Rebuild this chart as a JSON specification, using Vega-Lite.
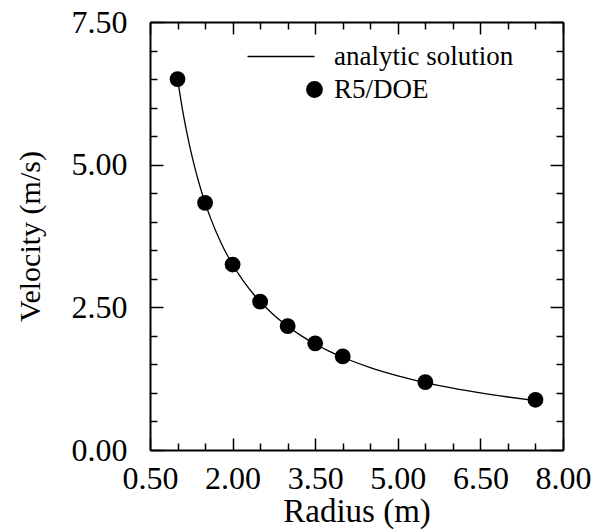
{
  "$schema": "https://vega.github.io/schema/vega-lite/v6.json",
  "width": 413,
  "height": 428,
  "autosize": {"type": "none"},
  "padding": {"left": 150, "top": 22, "right": 36, "bottom": 81},
  "background": "white",
  "config": {
    "view": {"stroke": null},
    "font": "Liberation Serif",
    "axis": {
      "labelFont": "Liberation Serif",
      "labelFontSize": 32,
      "labelColor": "black",
      "titleFont": "Liberation Serif",
      "titleFontSize": 30,
      "titleFontWeight": "normal",
      "titleColor": "black",
      "tickColor": "black",
      "tickWidth": 1.5,
      "domainColor": "black",
      "domainWidth": 2,
      "grid": false,
      "labelOverlap": false,
      "labelFlush": false,
      "labelBound": false
    }
  },
  "datasets": {
    "curve": [
      {"r": 1.0, "v": 6.5}, {"r": 1.1, "v": 5.909}, {"r": 1.2, "v": 5.417}, {"r": 1.3, "v": 5.0},
      {"r": 1.4, "v": 4.643}, {"r": 1.5, "v": 4.333}, {"r": 1.6, "v": 4.063}, {"r": 1.7, "v": 3.824},
      {"r": 1.8, "v": 3.611}, {"r": 1.9, "v": 3.421}, {"r": 2.0, "v": 3.25}, {"r": 2.2, "v": 2.955},
      {"r": 2.4, "v": 2.708}, {"r": 2.5, "v": 2.6}, {"r": 2.6, "v": 2.5}, {"r": 2.8, "v": 2.321},
      {"r": 3.0, "v": 2.167}, {"r": 3.25, "v": 2.0}, {"r": 3.5, "v": 1.857}, {"r": 3.75, "v": 1.733},
      {"r": 4.0, "v": 1.625}, {"r": 4.5, "v": 1.444}, {"r": 5.0, "v": 1.3}, {"r": 5.5, "v": 1.182},
      {"r": 6.0, "v": 1.083}, {"r": 6.5, "v": 1.0}, {"r": 7.0, "v": 0.929}, {"r": 7.5, "v": 0.867}
    ],
    "points": [
      {"r": 1.0, "v": 6.5}, {"r": 1.5, "v": 4.33}, {"r": 2.0, "v": 3.25}, {"r": 2.5, "v": 2.6},
      {"r": 3.0, "v": 2.17}, {"r": 3.5, "v": 1.87}, {"r": 4.0, "v": 1.64}, {"r": 5.5, "v": 1.19},
      {"r": 7.5, "v": 0.88}
    ]
  },
  "layer": [
    {
      "data": {"name": "curve"},
      "mark": {"type": "line", "strokeWidth": 1.3, "interpolate": "monotone"},
      "encoding": {
        "x": {
          "field": "r", "type": "quantitative",
          "scale": {"domain": [0.5, 8], "nice": false, "zero": false},
          "axis": {
            "orient": "bottom",
            "values": [0.5, 1, 1.5, 2, 2.5, 3, 3.5, 4, 4.5, 5, 5.5, 6, 6.5, 7, 7.5, 8],
            "labelExpr": "(datum.value - 0.5) % 1.5 == 0 ? format(datum.value, '.2f') : ''",
            "tickSize": {"condition": {"test": "(datum.value - 0.5) % 1.5 == 0", "value": -12}, "value": -7},
            "labelBaseline": "top",
            "labelPadding": 25,
            "title": "Radius (m)",
            "titleFontSize": 33,
            "titleX": 206.5,
            "titleY": 71,
            "titleAlign": "center",
            "titleBaseline": "alphabetic"
          }
        },
        "y": {
          "field": "v", "type": "quantitative",
          "scale": {"domain": [0, 7.5], "nice": false, "zero": false},
          "axis": {
            "orient": "left",
            "values": [0, 0.5, 1, 1.5, 2, 2.5, 3, 3.5, 4, 4.5, 5, 5.5, 6, 6.5, 7, 7.5],
            "labelExpr": "datum.value % 2.5 == 0 ? format(datum.value, '.2f') : ''",
            "tickSize": {"condition": {"test": "datum.value % 2.5 == 0", "value": -13}, "value": -7},
            "labelPadding": 36,
            "labelBaseline": "middle",
            "title": "Velocity (m/s)",
            "titleX": -120,
            "titleY": 214,
            "titleAngle": -90,
            "titleAlign": "center",
            "titleBaseline": "middle"
          }
        },
        "color": {
          "datum": "analytic solution",
          "scale": {"domain": ["analytic solution", "R5/DOE"], "range": ["black", "black"]},
          "legend": {
            "orient": "none",
            "legendX": 151,
            "legendY": 21,
            "title": null,
            "labelFont": "Liberation Serif",
            "labelFontSize": 27,
            "labelColor": "black",
            "labelLimit": 400,
            "labelOffset": 6,
            "symbolSize": 240,
            "rowPadding": 5,
            "encode": {
              "symbols": {
                "update": {
                  "shape": {"signal": "datum.value === 'R5/DOE' ? 'circle' : 'M-8.65,0H0'"},
                  "fill": {"value": "black"},
                  "stroke": {"value": "black"},
                  "strokeWidth": {"value": 1.3},
                  "opacity": {"value": 1}
                }
              }
            }
          }
        }
      }
    },
    {
      "data": {"name": "points"},
      "mark": {"type": "point", "filled": true, "size": 250, "opacity": 1, "shape": "circle"},
      "encoding": {
        "x": {
          "field": "r", "type": "quantitative",
          "axis": {
            "orient": "top",
            "values": [0.5, 1, 1.5, 2, 2.5, 3, 3.5, 4, 4.5, 5, 5.5, 6, 6.5, 7, 7.5, 8],
            "labels": false,
            "tickSize": {"condition": {"test": "(datum.value - 0.5) % 1.5 == 0", "value": -12}, "value": -7},
            "title": null
          }
        },
        "y": {
          "field": "v", "type": "quantitative",
          "axis": {
            "orient": "right",
            "values": [0, 0.5, 1, 1.5, 2, 2.5, 3, 3.5, 4, 4.5, 5, 5.5, 6, 6.5, 7, 7.5],
            "labels": false,
            "tickSize": {"condition": {"test": "datum.value % 2.5 == 0", "value": -13}, "value": -7},
            "title": null
          }
        },
        "color": {"datum": "R5/DOE"}
      }
    }
  ],
  "resolve": {"axis": {"x": "independent", "y": "independent"}}
}
